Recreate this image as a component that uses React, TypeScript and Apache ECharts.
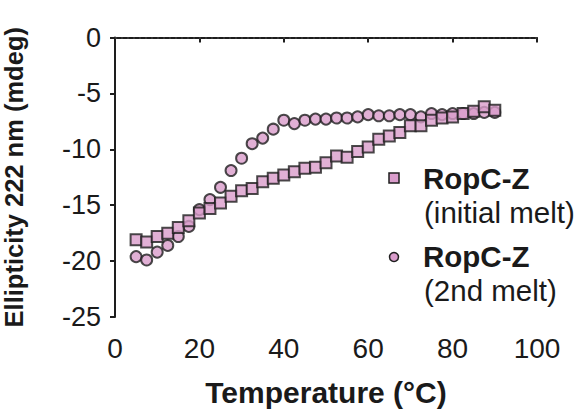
import React, { useEffect, useRef } from "react";
import * as echarts from "echarts";

const temperatures = [5, 7.5, 10, 12.5, 15, 17.5, 20, 22.5, 25, 27.5, 30, 32.5, 35, 37.5, 40, 42.5, 45, 47.5, 50, 52.5, 55, 57.5, 60, 62.5, 65, 67.5, 70, 72.5, 75, 77.5, 80, 82.5, 85, 87.5, 90];

const initialMelt = [-18.1, -18.3, -17.8, -17.5, -17.0, -16.4, -15.7, -15.3, -14.8, -14.2, -13.7, -13.5, -12.9, -12.6, -12.3, -12.0, -11.7, -11.6, -11.2, -10.6, -10.7, -10.2, -9.8, -9.1, -8.8, -8.5, -7.9, -7.9, -7.4, -7.2, -7.1, -6.8, -6.6, -6.2, -6.5];

const secondMelt = [-19.6, -19.9, -19.2, -18.6, -17.8, -16.9, -15.4, -14.5, -13.4, -11.9, -10.8, -9.5, -9.0, -8.2, -7.4, -7.7, -7.4, -7.3, -7.3, -7.2, -7.2, -7.1, -6.9, -7.0, -7.0, -6.9, -6.9, -7.1, -6.8, -6.9, -6.8, -6.8, -6.8, -6.7, -6.7];

const seriesNames = ["RopC-Z", "RopC-Z"];
const seriesNotes = ["(initial melt)", "(2nd melt)"];
const xTicks = [0, 20, 40, 60, 80, 100];
const yTicks = [-25, -20, -15, -10, -5, 0];

const FILL = "#d99ccb";
const EDGE = "#1e1e1e";
const TEXT = "#1a1a1a";
const FONT = "'Liberation Sans', Arial, sans-serif";

export default function App() {
  const ref = useRef<HTMLDivElement>(null);
  useEffect(() => {
    document.body.style.margin = "0";
    const chart = echarts.init(ref.current!, null, { renderer: "svg" });
    const pair = (ys: number[]) => temperatures.map((t, i) => [t, ys[i]]);
    chart.setOption({
      animation: false,
      backgroundColor: "#ffffff",
      grid: { left: 115, right: 45, top: 37.5, bottom: 93, containLabel: false, outerBoundsMode: "none" },
      xAxis: {
        type: "value",
        min: xTicks[0],
        max: xTicks[xTicks.length - 1],
        interval: 20,
        name: "Temperature (°C)",
        nameLocation: "middle",
        nameGap: 60,
        nameTextStyle: { fontFamily: FONT, fontWeight: "bold", fontSize: 30, color: TEXT },
        axisLine: { show: true, lineStyle: { color: EDGE, width: 2 } },
        axisTick: { show: true, inside: false, length: 5, lineStyle: { color: EDGE, width: 2 } },
        axisLabel: { fontFamily: FONT, fontSize: 28, color: TEXT, margin: 17 },
        splitLine: { show: false },
      },
      yAxis: {
        type: "value",
        min: yTicks[0],
        max: yTicks[yTicks.length - 1],
        interval: 5,
        name: "Ellipticity 222 nm (mdeg)",
        nameLocation: "middle",
        nameGap: 88,
        nameRotate: 90,
        nameTextStyle: { fontFamily: FONT, fontWeight: "bold", fontSize: 25.5, color: TEXT },
        axisLine: { show: true, onZero: false, lineStyle: { color: EDGE, width: 2 } },
        axisTick: { show: true, inside: false, length: 5, lineStyle: { color: EDGE, width: 2 } },
        axisLabel: { fontFamily: FONT, fontSize: 27, color: TEXT, margin: 14 },
        splitLine: { show: false },
      },
      series: [
        {
          name: seriesNames[1] + " " + seriesNotes[1],
          type: "scatter",
          symbol: "circle",
          symbolSize: 11,
          itemStyle: { color: FILL, borderColor: EDGE, borderWidth: 2 },
          data: pair(secondMelt),
          z: 2,
          markLine: {
            silent: true,
            symbol: "none",
            label: { show: false },
            lineStyle: { type: [2, 4], color: "#333", width: 2 },
            data: [{ yAxis: 0 }],
          },
        },
        {
          name: seriesNames[0] + " " + seriesNotes[0],
          type: "scatter",
          symbol: "rect",
          symbolSize: 11,
          itemStyle: { color: FILL, borderColor: EDGE, borderWidth: 2 },
          data: pair(initialMelt),
          z: 3,
        },
      ],
      graphic: [
        { type: "rect", shape: { x: 389, y: 173, width: 10, height: 10 }, style: { fill: FILL, stroke: EDGE, lineWidth: 1.5 } },
        { type: "text", x: 423, y: 178, style: { text: seriesNames[0], font: `bold 29.5px ${FONT}`, fill: TEXT, verticalAlign: "middle" } },
        { type: "text", x: 424, y: 212, style: { text: seriesNotes[0], font: `29.5px ${FONT}`, fill: TEXT, verticalAlign: "middle" } },
        { type: "circle", shape: { cx: 394, cy: 257, r: 4.5 }, style: { fill: FILL, stroke: EDGE, lineWidth: 1.5 } },
        { type: "text", x: 423, y: 256, style: { text: seriesNames[1], font: `bold 29.5px ${FONT}`, fill: TEXT, verticalAlign: "middle" } },
        { type: "text", x: 424, y: 290, style: { text: seriesNotes[1], font: `29.5px ${FONT}`, fill: TEXT, verticalAlign: "middle" } },
      ],
    });
    return () => chart.dispose();
  }, []);
  return <div ref={ref} style={{ width: 582, height: 410 }} />;
}
